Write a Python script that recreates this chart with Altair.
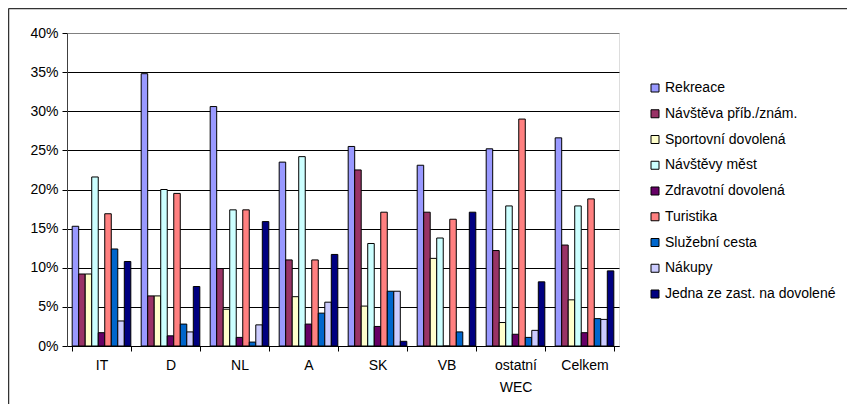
import altair as alt
import pandas as pd

categories = ["IT", "D", "NL", "A", "SK", "VB", "ostatní WEC", "Celkem"]
series = ["Rekreace", "Návštěva příb./znám.", "Sportovní dovolená", "Návštěvy měst",
          "Zdravotní dovolená", "Turistika", "Služební cesta", "Nákupy",
          "Jedna ze zast. na dovolené"]
colors = ["#9999FF", "#993366", "#FFFFCC", "#CCFFFF", "#660066", "#FF8080",
          "#0066CC", "#CCCCFF", "#000080"]

# values in percent, one list per series, in category order
rekreace   = [15.3, 34.8, 30.6, 23.5, 25.5, 23.1, 25.2, 26.6]
navsteva   = [9.2, 6.4, 9.9, 11.0, 22.5, 17.1, 12.2, 12.9]
sportovni  = [9.2, 6.4, 4.7, 6.3, 5.1, 11.2, 3.0, 5.9]
mesta      = [21.6, 20.0, 17.4, 24.2, 13.1, 13.8, 17.9, 17.9]
zdravotni  = [1.7, 1.3, 1.1, 2.8, 2.5, 0.0, 1.5, 1.7]
turistika  = [16.9, 19.5, 17.4, 11.0, 17.1, 16.2, 29.0, 18.8]
sluzebni   = [12.4, 2.8, 0.5, 4.2, 7.0, 1.8, 1.1, 3.5]
nakupy     = [3.2, 1.8, 2.7, 5.6, 7.0, 0.0, 2.0, 3.4]
jedna      = [10.8, 7.6, 15.9, 11.7, 0.6, 17.1, 8.2, 9.6]

all_series = [rekreace, navsteva, sportovni, mesta, zdravotni, turistika,
              sluzebni, nakupy, jedna]

rows = []
for s, vals in zip(series, all_series):
    for c, v in zip(categories, vals):
        rows.append({"kat": c, "serie": s, "hodnota": v / 100.0})
df = pd.DataFrame(rows)

FONT = "Liberation Sans"

bars = alt.Chart(df).mark_bar(stroke="black", strokeWidth=1).encode(
    x=alt.X("kat:N", sort=categories, title=None,
            scale=alt.Scale(paddingInner=0.15, paddingOuter=0.075),
            axis=alt.Axis(labelAngle=0, tickBand="extent", tickSize=5,
                          tickColor="black", domainColor="black",
                          labelPadding=7, labelFontSize=14, labelFont=FONT,
                          labelColor="black", labelLineHeight=22,
                          labelExpr="datum.label == 'ostatní WEC' ? ['ostatní', 'WEC'] : datum.label",
                          grid=False)),
    xOffset=alt.XOffset("serie:N", sort=series,
                        scale=alt.Scale(paddingInner=0, paddingOuter=0)),
    y=alt.Y("hodnota:Q", title=None,
            scale=alt.Scale(domain=[0, 0.4], nice=False),
            axis=alt.Axis(format=".0%", values=[0, 0.05, 0.1, 0.15, 0.2, 0.25, 0.3, 0.35, 0.4],
                          tickSize=5, tickColor="black", domainColor="#404040",
                          labelPadding=4, labelFontSize=14, labelFont=FONT,
                          labelColor="black", grid=True,
                          gridColor=alt.condition("datum.value >= 0.399",
                                                  alt.value("#808080"), alt.value("black")),
                          gridWidth=1, gridOpacity=1)),
    color=alt.Color("serie:N", sort=series,
                    scale=alt.Scale(domain=series, range=colors),
                    legend=alt.Legend(title=None, orient="none", legendX=581, legendY=48,
                                      symbolType="square", symbolSize=64,
                                      symbolStrokeColor="black", symbolStrokeWidth=1,
                                      symbolOpacity=1, labelFontSize=14, labelFont=FONT,
                                      labelColor="black", labelOffset=3,
                                      rowPadding=11.75, padding=0,
                                      labelLimit=300)),
)

one = pd.DataFrame({"a": [0]})
top_border = alt.Chart(one).mark_rule(color="#333333", strokeWidth=1.5).encode(
    x=alt.value(-58.5), x2=alt.value(840), y=alt.value(-24.5))
left_border = alt.Chart(one).mark_rule(color="#333333", strokeWidth=1.5).encode(
    x=alt.value(-58.5), y=alt.value(-24.5), y2=alt.value(400))

chart = alt.layer(bars, top_border, left_border).properties(
    width=552, height=313,
    autosize=alt.AutoSizeParams(type="none"),
    padding={"left": 59, "top": 25, "right": 228, "bottom": 58},
).configure_view(
    stroke="#808080", strokeWidth=2
).configure(background="white")

chart.save("out.html", embed_options={"renderer": "svg", "actions": False})
